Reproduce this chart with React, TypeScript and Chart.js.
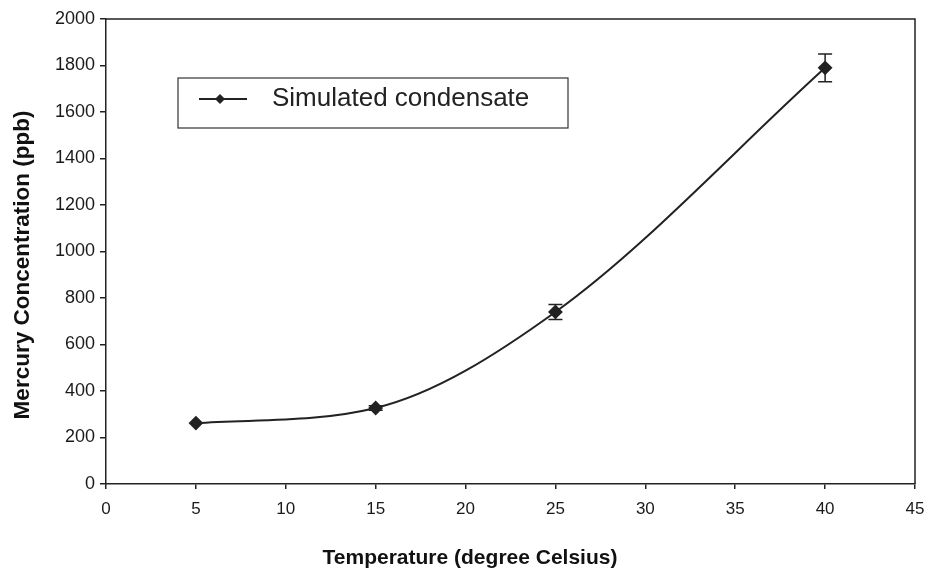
import React, { useEffect, useRef } from "react";
import { Chart, registerables } from "chart.js";

Chart.register(...registerables);

const temperatures = [5, 15, 25, 40];
const mercury = [262, 327, 740, 1790];
const errors = [0, 10, 32, 60];
const seriesLabel = "Simulated condensate";
const xTitle = "Temperature (degree Celsius)";
const yTitle = "Mercury Concentration (ppb)";

const INK = "#222";
const FONT = "Arial, 'Liberation Sans', sans-serif";

const framePlugin = {
  id: "frameAndExtras",
  afterDatasetsDraw(chart: any) {
    const { ctx, chartArea, scales } = chart;
    const xs = scales.x;
    const ys = scales.y;
    ctx.save();
    // frame
    ctx.strokeStyle = INK;
    ctx.lineWidth = 1.5;
    ctx.beginPath();
    ctx.moveTo(chartArea.left, chartArea.top);
    ctx.lineTo(chartArea.right, chartArea.top);
    ctx.lineTo(chartArea.right, chartArea.bottom);
    ctx.stroke();
    // error bars
    ctx.lineWidth = 1.5;
    temperatures.forEach((t, i) => {
      const e = errors[i];
      if (!e) return;
      const px = xs.getPixelForValue(t);
      const top = ys.getPixelForValue(mercury[i] + e);
      const bot = ys.getPixelForValue(mercury[i] - e);
      ctx.beginPath();
      ctx.moveTo(px, top);
      ctx.lineTo(px, bot);
      ctx.moveTo(px - 7, top);
      ctx.lineTo(px + 7, top);
      ctx.moveTo(px - 7, bot);
      ctx.lineTo(px + 7, bot);
      ctx.stroke();
    });
    // legend box
    const lx = chartArea.left + 72;
    const ly = chartArea.top + 59;
    const lw = 390;
    const lh = 50;
    ctx.lineWidth = 1.2;
    ctx.strokeStyle = "#333";
    ctx.strokeRect(lx, ly, lw, lh);
    const cy = ly + lh / 2 - 4;
    ctx.lineWidth = 2;
    ctx.strokeStyle = INK;
    ctx.beginPath();
    ctx.moveTo(lx + 21, cy);
    ctx.lineTo(lx + 69, cy);
    ctx.stroke();
    ctx.fillStyle = INK;
    ctx.beginPath();
    ctx.moveTo(lx + 42, cy - 5);
    ctx.lineTo(lx + 47, cy);
    ctx.lineTo(lx + 42, cy + 5);
    ctx.lineTo(lx + 37, cy);
    ctx.closePath();
    ctx.fill();
    ctx.font = `26px ${FONT}`;
    ctx.textBaseline = "middle";
    ctx.textAlign = "left";
    ctx.fillStyle = "#222";
    ctx.fillText(seriesLabel, lx + 94, cy);
    // axis titles
    ctx.fillStyle = "#111";
    ctx.textAlign = "center";
    ctx.textBaseline = "middle";
    ctx.font = `bold 21px ${FONT}`;
    ctx.fillText(xTitle, chartArea.left + 364, chartArea.bottom + 74);
    ctx.save();
    ctx.translate(23, chartArea.top + 246);
    ctx.rotate(-Math.PI / 2);
    ctx.font = `bold 22.5px ${FONT}`;
    ctx.fillText(yTitle, 0, 0);
    ctx.restore();
    ctx.restore();
  },
};

export default function App() {
  const ref = useRef<HTMLCanvasElement | null>(null);
  useEffect(() => {
    document.body.style.margin = "0";
    const canvas = ref.current;
    if (!canvas) return;
    const chart = new Chart(canvas, {
      type: "line",
      data: {
        datasets: [
          {
            label: seriesLabel,
            data: temperatures.map((t, i) => ({ x: t, y: mercury[i] })),
            borderColor: INK,
            backgroundColor: INK,
            borderWidth: 2,
            pointStyle: "rectRot",
            pointRadius: 6,
            pointHoverRadius: 6,
            tension: 0.35,
            cubicInterpolationMode: "monotone",
          },
        ],
      },
      options: {
        animation: false,
        responsive: false,
        events: [],
        layout: { padding: { top: 19, right: 15, left: 0, bottom: 0 } },
        plugins: {
          legend: { display: false },
          tooltip: { enabled: false },
        },
        scales: {
          x: {
            type: "linear",
            min: 0,
            max: 45,
            ticks: {
              stepSize: 5,
              color: "#1a1a1a",
              font: { family: FONT, size: 17 },
              padding: 10,
              callback: (v: any) => String(v),
            },
            grid: {
              drawOnChartArea: false,
              drawTicks: true,
              tickLength: 5,
              color: INK,
              lineWidth: 1.5,
            },
            border: { color: INK, width: 1.5 },
            afterFit(scale: any) {
              scale.height = 89;
              scale.paddingLeft = 0;
              scale.paddingRight = 0;
            },
          },
          y: {
            min: 0,
            max: 2000,
            ticks: {
              stepSize: 200,
              color: "#1a1a1a",
              font: { family: FONT, size: 18 },
              padding: 5,
              callback: (v: any) => String(v),
            },
            grid: {
              drawOnChartArea: false,
              drawTicks: true,
              tickLength: 6,
              color: INK,
              lineWidth: 1.5,
            },
            border: { color: INK, width: 1.5 },
            afterFit(scale: any) {
              scale.width = 106;
              scale.paddingTop = 0;
              scale.paddingBottom = 0;
            },
          },
        },
      },
      plugins: [framePlugin],
    } as any);
    return () => chart.destroy();
  }, []);
  return (
    <div style={{ width: 930, height: 573, background: "#fff" }}>
      <canvas ref={ref} width={930} height={573} style={{ display: "block" }} />
    </div>
  );
}
